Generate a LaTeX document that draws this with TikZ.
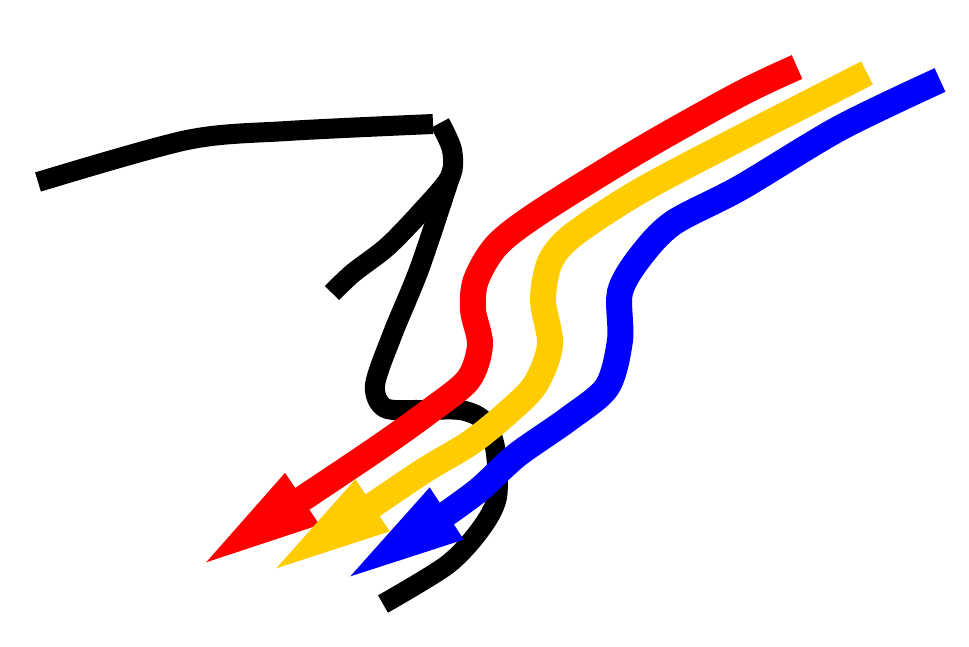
\documentclass[tikz,border=0pt]{standalone}
\usetikzlibrary{arrows.meta}
\definecolor{pathyellow}{RGB}{255,204,0}

\begin{document}
\begin{tikzpicture}[x=0.02cm,y=-0.02cm,
    inkline/.style={line width=0.4cm,black,line cap=butt},
    ribbon/.style={line width=0.52cm,line cap=butt,
        -{Triangle[length=2.62cm,width=1.06cm]}}]
    \useasboundingbox (0,0) rectangle (969,646);

    % black strokes
    \draw[inkline] plot[smooth] coordinates {(38,182) (187,140) (287,131) (433,124)};
    \draw[inkline] plot[smooth] coordinates {(440,123) (452,150) (450,177) (420,213) (387,247) (353,273) (332,293)};
    \draw[inkline] plot[smooth] coordinates {(453,168) (420,267) (393,333) (375,385) (385,408) (420,410) (460,410) (483,420) (495,447) (497,497) (480,530) (447,565) (383,604)};

    % coloured arrows
    \draw[ribbon,red] plot[smooth] coordinates {(797,67) (740,94) (640,150) (540,212) (497,245) (476,280) (473,310) (480,345) (468,380) (427,413) (378,448) (305,497)} -- (193,571);
    \draw[ribbon,pathyellow] plot[smooth] coordinates {(867,73) (740,138) (640,191) (573,235) (550,262) (543,300) (550,345) (535,385) (505,415) (470,443) (425,470) (373,505)} -- (263,577);
    \draw[ribbon,blue] plot[smooth] coordinates {(940,80) (840,128) (740,188) (673,223) (640,257) (620,292) (620,340) (607,387) (567,420) (517,455) (480,489) (449,512)} -- (337,585);
\end{tikzpicture}
\end{document}
